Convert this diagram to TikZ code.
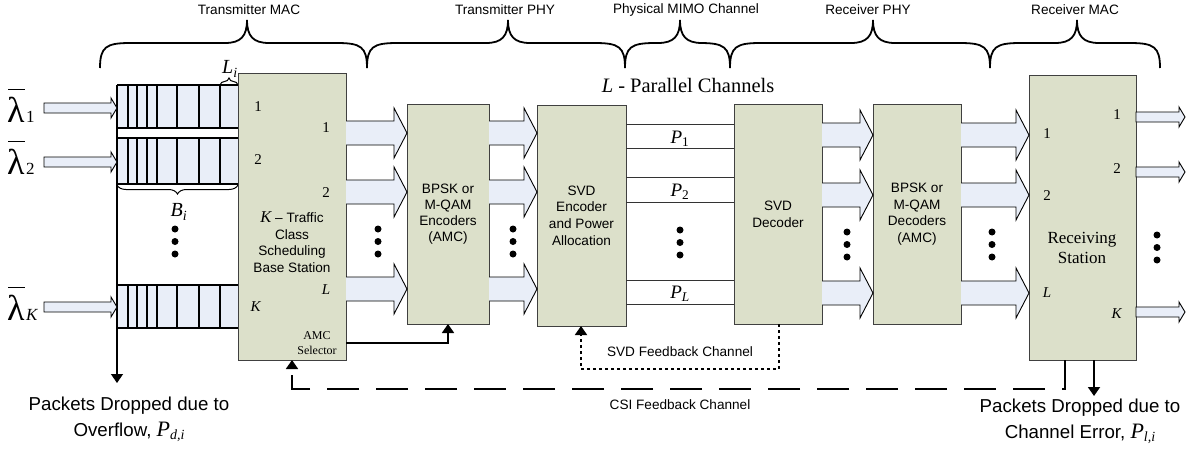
\documentclass[tikz,border=0pt]{standalone}
\usepackage{fontspec}
\setmainfont{Liberation Sans}
\newfontfamily\tnr{Liberation Serif}
\usetikzlibrary{calc,arrows.meta,decorations.pathreplacing}
\definecolor{boxfill}{HTML}{DCE0CA}
\definecolor{arrfill}{HTML}{E9EEF8}
\newcommand\fsz[2]{\fontsize{#1}{#2}\selectfont}
% big block arrow between two named nodes at image row #3
\newcommand\barrow[3]{%
  \path (#1.east |- 0,#3) coordinate (bs) (#2.west |- 0,#3) coordinate (bt);
  \draw[barr] ($(bs)+(0,-12)$) -- ($(bt)+(-13,-12)$) -- ($(bt)+(-13,-25)$) -- (bt)
     -- ($(bt)+(-13,25)$) -- ($(bt)+(-13,12)$) -- ($(bs)+(0,12)$);}
% small block arrow between two coordinates
\newcommand\sarrow[2]{%
  \draw[barr] ($(#1)+(0,-5)$) -- ($(#2)+(-6,-5)$) -- ($(#2)+(-6,-10)$) -- (#2)
     -- ($(#2)+(-6,10)$) -- ($(#2)+(-6,5)$) -- ($(#1)+(0,5)$) -- cycle;}
\newcommand\tridot[2]{\fill (#1,#2) circle (3.5pt) (#1,#2+12.5) circle (3.5pt) (#1,#2+25) circle (3.5pt);}
\newcommand\queue[2]{%
  \fill[arrfill] (117,#1) rectangle (238,#2);
  \draw[qline] (117,#1) -- (238,#1) (117,#2) -- (238,#2);
  \foreach \xx in {128,137,147,157,177,199,220} {\draw[qline] (\xx,#1) -- (\xx,#2);}}
\newcommand\bigbrace[3]{%
  \draw[brc] (#1,68) .. controls (#1,47) and (#1+6,43) .. (#1+30,43) -- (#2-22,43)
     .. controls (#2-6,43) and (#2,36) .. (#2,20)
     .. controls (#2,36) and (#2+6,43) .. (#2+22,43) -- (#3-30,43)
     .. controls (#3-6,43) and (#3,47) .. (#3,68);}
\newcommand\lamlab[5]{%
  \node[inner sep=0pt, anchor=base west, font=\tnr\fsz{36}{36}] (#1) at (#2,#3) {λ};
  \draw[line width=1.6pt] ($(#1.north west)+(1,-7)$) -- ($(#1.north east)+(0,-7)$);
  \node[inner sep=0pt, anchor=base west, font=\tnr\fsz{17}{17}] (#1s) at ($(#1.base east)+(1,0)$) {#4};}
\begin{document}
\begin{tikzpicture}[x=1pt,y=-1pt,
  box/.style={draw=black!75, fill=boxfill, line width=1pt, inner sep=0pt, outer sep=0pt, anchor=north west},
  barr/.style={draw=black, fill=arrfill, line width=0.9pt, line join=miter},
  qline/.style={line width=1.4pt},
  brc/.style={line width=1.8pt},
  fb/.style={line width=1.8pt},
  chl/.style={draw=black!80, line width=1pt},
  tip/.style={-{Triangle[width=12pt,length=9pt]}},
  lab/.style={inner sep=0pt, font=\fsz{13.6}{16.6}, align=center},
  num/.style={inner sep=0pt, font=\tnr\fsz{15}{18}}
]
\useasboundingbox (0,0) rectangle (1201,450);

% ---------- top braces and labels
\bigbrace{100}{247}{367}
\bigbrace{367}{508}{625}
\bigbrace{625}{680}{730}
\bigbrace{730}{873}{990}
\bigbrace{990}{1077}{1160}
\node[lab] (ltm) at (249,10) {Transmitter MAC};
\node[lab] (ltp) at (505,10) {Transmitter PHY};
\node[lab] (lpm) at (686,10) {Physical MIMO Channel};
\node[lab] (lrp) at (868,10) {Receiver PHY};
\node[lab] (lrm) at (1075,10) {Receiver MAC};

% ---------- queues
\queue{85}{128}
\queue{138}{184}
\queue{285}{328}
\coordinate (qtop) at (117,85);
\coordinate (dropl) at (117,383);
\draw[qline, tip] (qtop) -- (dropl);
\draw[line width=1pt, decorate, decoration={brace, amplitude=7pt}] (220,85) -- (238,85);
\draw[line width=1pt, decorate, decoration={brace, amplitude=9pt}] (238,185) -- (117,185);
\node[inner sep=0pt, font=\tnr\fsz{20}{22}] (li) at (230,69) {\textit{L}\textsubscript{\textit{i}}};
\node[inner sep=0pt, font=\tnr\fsz{20}{22}] (bi) at (179,212) {\textit{B}\textsubscript{\textit{i}}};
\tridot{175}{229}

% ---------- inputs
\lamlab{lam1}{7}{122}{1}{}
\lamlab{lam2}{7}{174}{2}{}
\lamlab{lamK}{7}{320}{\textit{K}}{}
\coordinate (i1s) at (44,108);  \coordinate (i1e) at (117,108);
\coordinate (i2s) at (44,162);  \coordinate (i2e) at (117,162);
\coordinate (iKs) at (44,307);  \coordinate (iKe) at (117,307);
\sarrow{i1s}{i1e}
\sarrow{i2s}{i2e}
\sarrow{iKs}{iKe}

% ---------- boxes
\node[box, minimum width=108, minimum height=287] (txmac) at (238,73) {};
\node[box, minimum width=82, minimum height=220, align=center, font=\fsz{13.6}{16.2}] (bpske) at (407,104)
  {BPSK or\\M-QAM\\Encoders\\(AMC)};
\node[box, minimum width=89, minimum height=221, align=center, font=\fsz{13.6}{16.6}] (svde) at (537,105)
  {SVD\\Encoder\\and Power\\Allocation};
\node[box, minimum width=88, minimum height=220, align=center, font=\fsz{13.6}{17}] (svdd) at (734,104)
  {SVD\\Decoder};
\node[box, minimum width=88, minimum height=220, align=center, font=\fsz{13.6}{16.6}] (bpskd) at (873,104)
  {BPSK or\\M-QAM\\Decoders\\(AMC)};
\node[box, minimum width=107, minimum height=285] (rx) at (1029,75) {};

% TX MAC labels
\node[num] (tx1) at (258,107) {1};
\node[num] (tx2) at (258,160) {2};
\node[num] (txK) at (256,307) {\textit{K}};
\node[num] (to1) at (326,128) {1};
\node[num] (to2) at (326,193) {2};
\node[num] (toL) at (326,290) {\textit{L}};
\node[lab] (txt) at (292,242) {{\tnr\itshape\fsz{16.5}{16.5}K} – Traffic\\Class\\Scheduling\\Base Station};
\node[inner sep=0pt, align=center, font=\tnr\fsz{12}{14.5}] (amc) at (317,343) {AMC\\Selector};

% RX labels
\node[num] (ri1) at (1047,134) {1};
\node[num] (ri2) at (1047,196) {2};
\node[num] (riL) at (1047,293) {\textit{L}};
\node[num] (ro1) at (1117,115) {1};
\node[num] (ro2) at (1117,169) {2};
\node[num] (roK) at (1117,314) {\textit{K}};
\node[inner sep=0pt, align=center, font=\tnr\fsz{17}{20.5}] (rxt) at (1082,248) {Receiving\\Station};

% ---------- block arrows
\barrow{txmac}{bpske}{133}
\barrow{txmac}{bpske}{192}
\barrow{txmac}{bpske}{289}
\tridot{378}{229}
\barrow{bpske}{svde}{133}
\barrow{bpske}{svde}{192}
\barrow{bpske}{svde}{289}
\tridot{513}{229}
\barrow{svdd}{bpskd}{135}
\barrow{svdd}{bpskd}{195}
\barrow{svdd}{bpskd}{293}
\tridot{847}{232}
\barrow{bpskd}{rx}{135}
\barrow{bpskd}{rx}{195}
\barrow{bpskd}{rx}{293}
\tridot{992}{232}

% outputs
\path (rx.east |- 0,117) coordinate (o1s) (1185,117) coordinate (o1e);
\path (rx.east |- 0,172) coordinate (o2s) (1185,172) coordinate (o2e);
\path (rx.east |- 0,312) coordinate (oKs) (1185,312) coordinate (oKe);
\sarrow{o1s}{o1e}
\sarrow{o2s}{o2e}
\sarrow{oKs}{oKe}
\tridot{1157}{235}

% ---------- channels
\foreach \yy in {124,148,177,202,280,304} {\draw[chl] (svde.east |- 0,\yy) -- (svdd.west |- 0,\yy);}
\node[inner sep=0pt, font=\tnr\fsz{19}{22}] (p1) at (680,139) {\textit{P}\textsubscript{1}};
\node[inner sep=0pt, font=\tnr\fsz{19}{22}] (p2) at (680,192) {\textit{P}\textsubscript{2}};
\node[inner sep=0pt, font=\tnr\fsz{19}{22}] (pL) at (680,294) {\textit{P}\textsubscript{\textit{L}}};
\tridot{680}{230}
\node[inner sep=0pt, font=\tnr\fsz{20.5}{24}] (lpc) at (688,85) {\textit{L} - Parallel Channels};

% ---------- feedback
\draw[fb, tip] (txmac.east |- 0,343) -| (bpske.south -| 448,0);
\draw[fb, dash pattern=on 3pt off 3pt, tip] (svdd.south -| 779,0) |- (581,369) -- (svde.south -| 581,0);
\node[lab] (svdfb) at (680,352) {SVD Feedback Channel};
\draw[fb, dash pattern=on 32pt off 17pt, tip] (rx.south -| 1065,0) |- (292,389) -- (txmac.south -| 292,0);
\node[lab] (csifb) at (680,405) {CSI Feedback Channel};
\coordinate (dropr) at (1094,396);
\draw[fb, tip] (rx.south -| 1094,0) -- (dropr);

% ---------- drop labels
\node[inner sep=0pt, align=center, font=\fsz{18.7}{26}] (dl) at (129,419)
  {Packets Dropped due to\\Overflow, {\tnr\itshape\fsz{22}{22}P}{\tnr\itshape\fsz{14}{14}\raisebox{-3pt}{d,i}}};
\node[inner sep=0pt, align=center, font=\fsz{18.7}{26}] (dr) at (1080,421)
  {Packets Dropped due to\\Channel Error, {\tnr\itshape\fsz{22}{22}P}{\tnr\itshape\fsz{14}{14}\raisebox{-3pt}{l,i}}};
\end{tikzpicture}
\end{document}
